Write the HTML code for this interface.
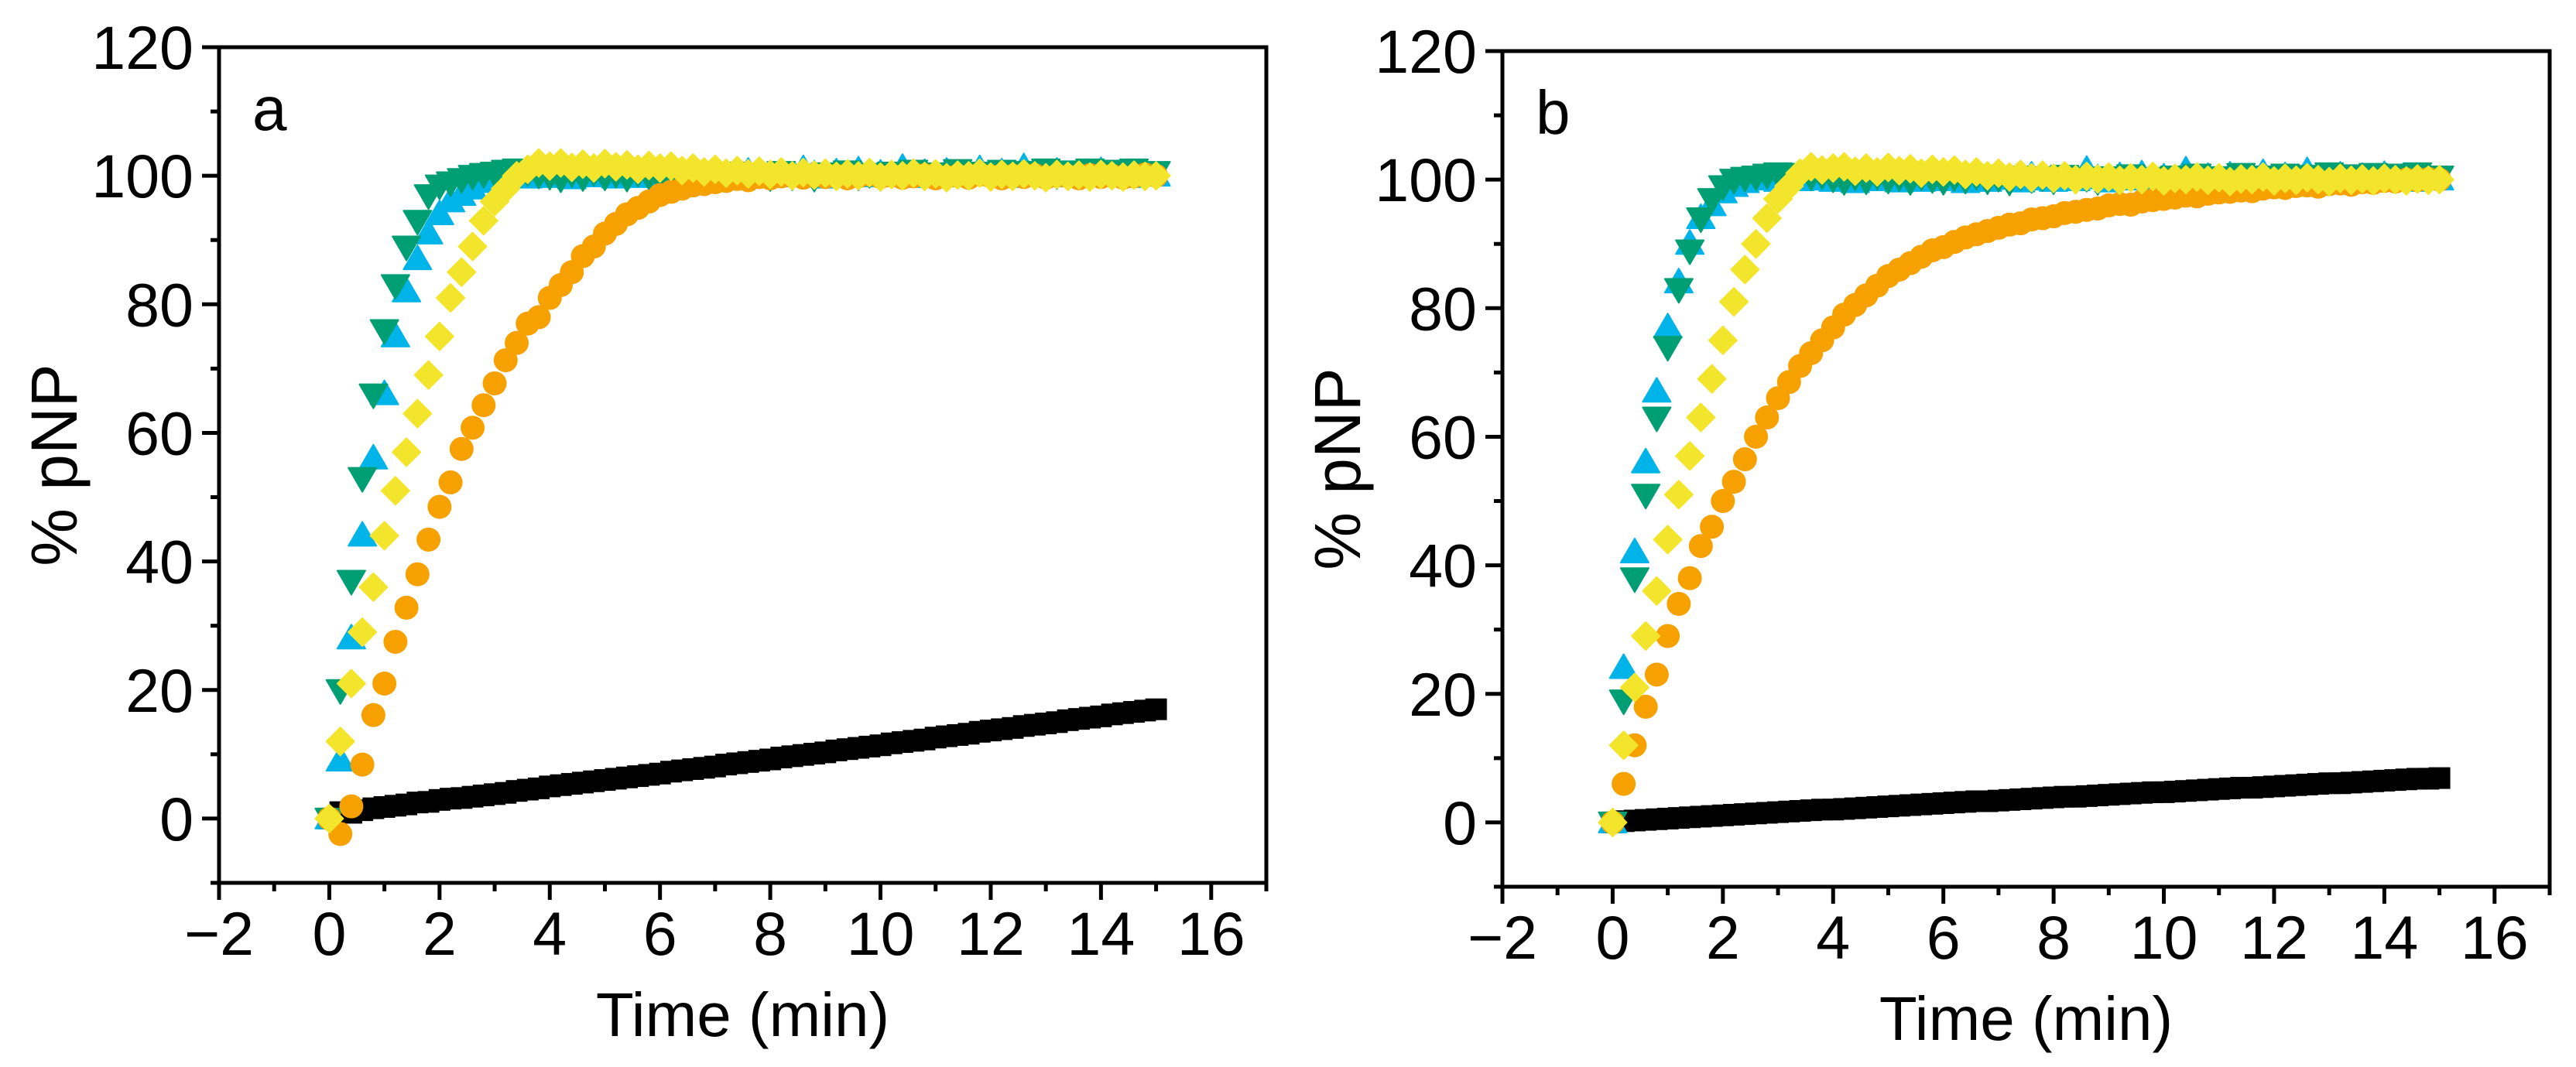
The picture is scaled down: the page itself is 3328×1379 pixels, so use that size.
<!DOCTYPE html>
<html><head><meta charset="utf-8"><style>
html,body{margin:0;padding:0;background:#fff;}
svg{display:block;}
text{font-family:"Liberation Sans",Arial,sans-serif;fill:#000;}
</style></head><body>
<svg id="chart" width="3328" height="1379" viewBox="0 0 3328 1379" xmlns="http://www.w3.org/2000/svg"></svg>
<script>
const times=[0,0.2,0.4,0.6,0.8,1.0,1.2,1.4,1.6,1.8,2.0,2.2,2.4,2.6,2.8,3.0,3.2,3.4,3.6,3.8,4.0,4.2,4.4,4.6,4.8,5.0,5.2,5.4,5.6,5.8,6.0,6.2,6.4,6.6,6.8,7.0,7.2,7.4,7.6,7.8,8.0,8.2,8.4,8.6,8.8,9.0,9.2,9.4,9.6,9.8,10.0,10.2,10.4,10.6,10.8,11.0,11.2,11.4,11.6,11.8,12.0,12.2,12.4,12.6,12.8,13.0,13.2,13.4,13.6,13.8,14.0,14.2,14.4,14.6,14.8,15.0];
const xTicks=[-2,0,2,4,6,8,10,12,14,16];
const xTickLabels=["\u22122","0","2","4","6","8","10","12","14","16"];
const yTicks=[0,20,40,60,80,100,120];
const yTickLabels=["0","20","40","60","80","100","120"];

const aBlack=[0,1.0,0.9,1.3,1.6,1.8,2.0,2.2,2.5,2.6,2.9,3.1,3.2,3.4,3.6,3.8,4.0,4.3,4.5,4.7,5.0,5.2,5.4,5.6,5.8,6.0,6.2,6.4,6.6,6.8,7.0,7.3,7.5,7.7,7.9,8.1,8.4,8.6,8.8,9.0,9.2,9.5,9.7,9.9,10.1,10.3,10.6,10.8,11.0,11.2,11.4,11.7,11.9,12.1,12.3,12.6,12.8,13.0,13.2,13.5,13.7,13.9,14.1,14.4,14.6,14.8,15.0,15.3,15.5,15.7,15.9,16.2,16.4,16.6,16.8,17.0];
const aOrange=[0,-2.4,1.9,8.4,16.1,21,27.5,32.8,38,43.4,48.5,52.3,57.5,60.8,64.3,67.7,71.3,74,77,78,81,83,85,87.5,89,91,92.5,94,95,96,97,97.5,98,98.5,98.7,99,99.2,99.5,99.3,99.8,99.6,99.9,100,99.7,100.1,99.8,100,99.6,99.9,100.2,99.8,100,99.7,99.9,100.1,99.6,99.8,100,99.7,100.2,99.9,99.6,100,99.8,100.1,99.7,100,99.9,99.6,100.1,99.8,100,99.7,99.9,100.2,100];
const aGreen=[0,20,37,53,66,76,83,89,93,97,98.5,99,99.5,100,100.3,100.5,100.8,101,100.6,100.2,100,99.6,100.4,99.8,100.6,99.9,100.3,99.7,100.5,100,99.7,100.4,99.9,100.6,99.8,100.2,99.6,100.5,100,100.3,99.8,100.6,99.9,100.2,99.7,100.4,100,100.7,99.9,100.3,99.8,100.5,100,100.8,99.9,100.4,100.1,100.9,100,100.5,100.2,100.8,100,100.6,100.3,101,100.1,100.7,100.4,101,100.2,100.8,100.5,101,100.3,100.6];
const aBlue=[0,9,28,44,56,66,75,82,87,91,94,96,97,98,99,99.5,99.6,99.8,99.7,99.9,99.8,100.2,99.6,100,99.9,100.3,99.7,100.1,99.8,100.4,99.9,100.2,99.6,100.5,99.8,100.1,100.3,99.7,100.6,100,99.8,100.4,99.9,101,100.2,99.7,100.5,100,100.8,99.9,100.3,100.1,101.2,99.8,100.4,100,100.6,99.9,100.2,101,100.1,100.5,99.8,101.3,100.2,100,100.6,99.9,100.4,100.1,100.7,100,100.3,99.8,100.2,100];
const aYellow=[0,12,21,29,36,44,51,57,63,69,75,81,85,89,93,96,98,100,101,102,101.5,102,101.3,101.8,101.2,101.9,101.4,101.7,101,101.6,101.2,101.5,100.8,101.2,100.6,101,100.4,100.8,100.3,100.7,100.2,100.6,100,100.5,100.1,100.4,99.9,100.3,100,100.5,99.8,100.2,100,100.4,99.9,100.3,99.7,100.1,100,100.4,99.8,100.2,99.9,100.3,100,99.7,100.2,99.9,100.1,99.8,100.2,100,99.8,100.1,99.9,100];

const bBlack=[0,0.2,0.3,0.4,0.5,0.6,0.7,0.8,0.9,1.0,1.1,1.2,1.3,1.4,1.5,1.6,1.7,1.8,1.9,2.0,2.0,2.1,2.2,2.3,2.4,2.5,2.6,2.7,2.8,2.9,3.0,3.1,3.2,3.3,3.3,3.4,3.5,3.6,3.7,3.8,3.9,4.0,4.0,4.1,4.2,4.3,4.4,4.5,4.6,4.7,4.7,4.8,4.9,5.0,5.1,5.2,5.3,5.4,5.4,5.5,5.6,5.7,5.8,5.9,6.0,6.1,6.1,6.2,6.3,6.4,6.5,6.6,6.7,6.8,6.8,6.9];
const bOrange=[0,6,12,18,23,29,34,38,43,46,50,53,56.5,60,63,66,68.5,71,73,75,77,79,80.5,82,83.5,85,86,87,88,89,89.5,90.3,91,91.5,92,92.5,93,93.2,93.8,94,94.3,94.8,95,95.3,95.5,96,96.2,96.1,96.6,96.8,97,97.2,97.5,97.4,97.8,98,98.1,98.3,98.2,98.6,98.8,98.7,99,99.1,98.9,99.3,99.4,99.2,99.6,99.5,99.8,99.7,100,99.9,100.1,100];
const bGreen=[0,19,38,51,63,74,83,89,94,97,99,100,100.3,100.5,100.8,101,100.6,100.9,100.5,100.7,100.2,99.8,100.5,99.9,100.6,100,100.4,99.8,100.5,100.1,99.8,100.4,100,100.6,99.9,100.3,99.7,100.5,100.1,100.4,99.9,100.6,100,100.3,99.8,100.4,100.1,100.7,100,100.3,99.9,100.5,100.1,100.8,100,100.4,100.2,100.9,100.1,100.5,100.3,100.8,100.1,100.6,100.4,101,100.2,100.7,100.4,100.9,100.3,100.8,100.5,101,100.3,100.5];
const bBlue=[0,24,42,56,67,77,84,90,94,96,98,99,99.6,100,100.2,99.8,100.1,99.9,100.2,100,99.8,100.2,99.6,100,99.9,100.3,99.7,100.1,99.8,100.4,99.9,100.2,99.6,100.5,99.8,100.1,100.3,99.7,100.6,100,99.8,100.4,99.9,101.5,100.2,99.7,100.5,100,100.8,99.9,100.3,100.1,101.4,99.8,100.4,100,100.6,99.9,100.2,101,100.1,100.5,99.8,101.3,100.2,100,100.6,99.9,100.4,100.1,100.7,100,100.3,99.8,100.2,100];
const bYellow=[0,12,21,29,36,44,51,57,63,69,75,81,86,90,94,97,99,101,102,101.5,101.8,102,101.3,101.8,101.2,101.9,101.4,101.7,101,101.6,101.2,101.5,100.8,101.2,100.6,101,100.4,100.8,100.3,100.7,100.2,100.6,100,100.5,100.1,100.4,99.9,100.3,100,100.5,99.8,100.2,100,100.4,99.9,100.3,99.7,100.1,100,100.4,99.8,100.2,99.9,100.3,100,99.7,100.2,99.9,100.1,99.8,100.2,100,99.8,100.1,99.9,100];

const NS="http://www.w3.org/2000/svg";
const svg=document.getElementById('chart');
function mk(tag,attrs,parent){const e=document.createElementNS(NS,tag);for(const k in attrs)e.setAttribute(k,attrs[k]);(parent||svg).appendChild(e);return e;}

const COL={black:"#000000",green:"#009E73",blue:"#00B4EA",orange:"#F7A100",yellow:"#F3E52B"};

function drawPanel(p){
  const g=mk('g',{});
  
  
  const xMin=-2,xMax=17,yMin=-10,yMax=120;
  const sx=v=>p.left+(v-xMin)*(p.right-p.left)/(xMax-xMin);
  const sy=v=>p.bottom-(v-yMin)*(p.bottom-p.top)/(yMax-yMin);
  const fr=mk('rect',{x:p.left,y:p.top,width:p.right-p.left,height:p.bottom-p.top,fill:'none',stroke:'#000','stroke-width':5},g);
  
  
  const xa=mk('g',{},g);
  
  
  for(let v=xMin;v<=xMax;v++){
    const major=(v%2===0);
    const x=sx(v);
    const t=mk('line',{x1:x,x2:x,y1:p.bottom,y2:p.bottom+(major?22:11),stroke:'#000','stroke-width':5},xa);
    
    
  }
  xTicks.forEach((v,i)=>{
    const t=mk('text',{x:sx(v),y:p.bottom+93,'font-size':79,'text-anchor':'middle'},xa);
    t.textContent=xTickLabels[i];
    
    
  });
  const xt=mk('text',{x:(sx(-2)+sx(17))/2,y:p.bottom+198,'font-size':80,'text-anchor':'middle'},xa);
  xt.textContent='Time (min)';
  
  
  const ya=mk('g',{},g);
  
  
  for(let v=yMin;v<=yMax;v+=10){
    const major=(v%20===0);
    const y=sy(v);
    const t=mk('line',{x1:p.left-(major?22:11),x2:p.left,y1:y,y2:y,stroke:'#000','stroke-width':5},ya);
    
    
  }
  yTicks.forEach((v,i)=>{
    const t=mk('text',{x:p.left-33,y:sy(v)+28,'font-size':79,'text-anchor':'end'},ya);
    t.textContent=yTickLabels[i];
    
    
  });
  const yc=(p.top+p.bottom)/2;
  const ytl=mk('text',{x:p.left-184,y:yc,'font-size':84,'text-anchor':'middle',transform:'rotate(-90 '+(p.left-184)+' '+yc+')'},ya);
  ytl.textContent='% pNP';
  
  
  const pl=mk('text',{x:p.left+43,y:p.top+107,'font-size':80},g);
  pl.textContent=p.label;
  
  
  const series=[
    {name:'control',vals:p.black,col:COL.black,shape:'square'},
    {name:'blue-series',vals:p.blue,col:COL.blue,shape:'up'},
    {name:'green-series',vals:p.green,col:COL.green,shape:'down'},
    {name:'orange-series',vals:p.orange,col:COL.orange,shape:'circle'},
    {name:'yellow-series',vals:p.yellow,col:COL.yellow,shape:'diamond'}
  ];
  series.forEach(s=>{
    const sg=mk('g',{fill:s.col},g);
    
    
    const n=Math.min(times.length,s.vals.length);
    for(let i=0;i<n;i++){
      const x=sx(times[i]),y=sy(s.vals[i]);
      let m;
      if(s.shape==='square') m=mk('rect',{x:x-14,y:y-14,width:28,height:28},sg);
      else if(s.shape==='circle') m=mk('circle',{cx:x,cy:y,r:15.5},sg);
      else if(s.shape==='up') m=mk('path',{d:`M${x},${y-18}L${x+18},${y+13}L${x-18},${y+13}Z`,'stroke':s.col,'stroke-width':2,'stroke-linejoin':'round'},sg);
      else if(s.shape==='down') m=mk('path',{d:`M${x},${y+18}L${x+18},${y-13}L${x-18},${y-13}Z`,'stroke':s.col,'stroke-width':2,'stroke-linejoin':'round'},sg);
      else m=mk('path',{d:`M${x},${y-18}L${x+18},${y}L${x},${y+18}L${x-18},${y}Z`,'stroke':s.col,'stroke-width':2,'stroke-linejoin':'round'},sg);
      
      
    }
  });
}
drawPanel({label:'a',left:283,right:1636,top:61,bottom:1141,black:aBlack,orange:aOrange,green:aGreen,blue:aBlue,yellow:aYellow});
drawPanel({label:'b',left:1941,right:3294,top:66,bottom:1146,black:bBlack,orange:bOrange,green:bGreen,blue:bBlue,yellow:bYellow});
</script>
</body></html>
